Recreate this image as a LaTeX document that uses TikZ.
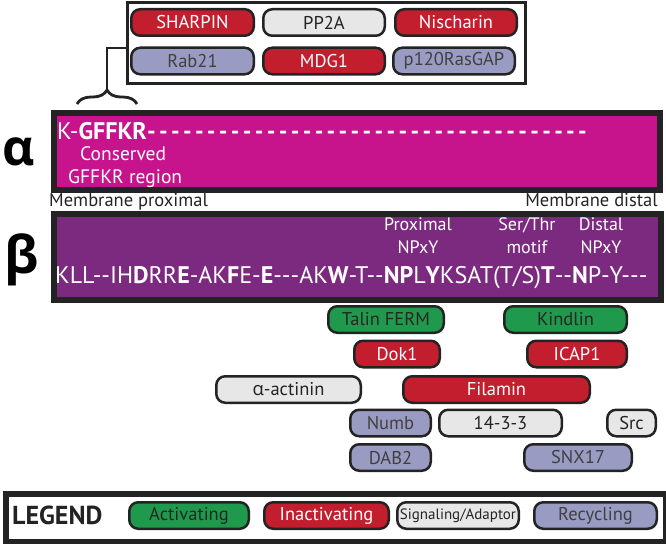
\documentclass[tikz,border=0pt]{standalone}
\usepackage{fontspec}
\setmainfont{PT Sans}[Ligatures=TeXOff]
\newfontfamily\grk{Open Sans}[Ligatures=TeXOff]
\usetikzlibrary{decorations.pathreplacing}
\definecolor{cact}{RGB}{31,154,76}
\definecolor{cina}{RGB}{194,30,46}
\definecolor{csig}{RGB}{231,231,231}
\definecolor{crec}{RGB}{154,155,195}
\definecolor{cmag}{RGB}{200,20,140}
\definecolor{cpur}{RGB}{124,42,127}
\definecolor{cdark}{RGB}{35,35,35}
\newcommand\fs[1]{\fontsize{#1}{#1}\selectfont}
\begin{document}
\begin{tikzpicture}[x=1pt,y=-1pt,
  pill/.style={draw=cdark, line width=2.5pt, rounded corners=9pt, inner sep=0pt,
    minimum height=26.5pt, font=\fs{18.5}},
  act/.style={pill, fill=cact, text=black!85},
  ina/.style={pill, fill=cina, text=white},
  sig/.style={pill, fill=csig, text=cdark},
  rec/.style={pill, fill=crec, text=black!75},
  panel/.style={draw=cdark, line width=6pt, inner sep=0pt, anchor=north west},
  lbl/.style={inner sep=0pt, anchor=base west},
  mot/.style={inner sep=0pt, anchor=base, text=white, font=\fs{18}}]
\useasboundingbox (0,0) rectangle (666,543);

% top box
\node[draw=cdark, line width=3pt, inner sep=0pt, anchor=north west,
  minimum width=398pt, minimum height=80pt, fill=white] (topbox) at (125.5,1.5) {};
\node[ina, minimum width=122.5pt] (sharpin) at (192.5,22.5) {SHARPIN};
\node[sig, minimum width=121.5pt] (pp2a) at (324,22.5) {PP2A};
\node[ina, minimum width=121.5pt] (nisch) at (456,22.5) {Nischarin};
\node[rec, minimum width=122.5pt] (rab21) at (192.5,61) {Rab21};
\node[ina, minimum width=121.5pt] (mdg1) at (324,61) {MDG1};
\node[rec, minimum width=121.5pt] (p120) at (454,61) {p120RasGAP};

% brace and bracket
\draw[decorate, decoration={brace, amplitude=14pt}, line width=2.8pt, cdark]
  (77,104) -- (137,104);
\coordinate (tip) at (107,90);
\draw[line width=2pt, cdark] (tip) |- ([yshift=-47pt]topbox.north west);

% alpha
\node[panel, fill=cmag, minimum width=606pt, minimum height=77pt] (abox) at (51,110) {};
\node[inner sep=0pt, font=\grk\bfseries\fs{50}] (alpha) at (19,152) {α};
\node[lbl, text=white, font=\fs{24}] (aseq) at (57,139)
  {\hbox to 533pt{K-\textbf{GFFKR}\xleaders\hbox to 11.75pt{\textbf{-}\hss}\hfill}};
\node[lbl, text=white, font=\fs{19.5}] (cons) at (80,160) {Conserved};
\node[lbl, text=white, font=\fs{19.5}] (gffkr) at (68,183) {GFFKR region};
\node[lbl, text=cdark, font=\fs{18.5}] (mprox) at (49,206) {Membrane proximal};
\node[inner sep=0pt, anchor=base east, text=cdark, font=\fs{18.5}] (mdist) at (658,206) {Membrane distal};

% beta
\node[panel, fill=cpur, minimum width=607pt, minimum height=86pt] (bbox) at (51,211) {};
\node[inner sep=0pt, font=\grk\bfseries\fs{52}] (beta) at (22,260) {β};
\node[mot] (prox) at (418,230) {Proximal};
\node[mot] (prox2) at (418,253) {NPxY};
\node[mot] (st) at (527,230) {Ser/Thr};
\node[mot] (st2) at (527,253) {motif};
\node[mot] (dn) at (601,230) {Distal};
\node[mot] (dn2) at (601,253) {NPxY};
\node[lbl, text=white, font=\fs{24}] (bseq) at (55,283)
  {KLL--IH\textbf{D}RR\textbf{E}-AK\textbf{F}E-\textbf{E}---AK\textbf{W}-T--\textbf{NP}L\textbf{Y}KSAT(T/S)\textbf{T}--\textbf{N}P-Y---};

% binders
\node[act, minimum width=115.5pt] (talin) at (386,319.5) {Talin FERM};
\node[act, minimum width=122.5pt] (kindlin) at (565.5,319.5) {Kindlin};
\node[ina, minimum width=85.5pt] (dok1) at (397,354) {Dok1};
\node[ina, minimum width=99.5pt] (icap1) at (577,354) {ICAP1};
\node[sig, minimum width=144.5pt] (actinin) at (288.5,389.5) {{\grk α}-actinin};
\node[ina, minimum width=186.5pt] (filamin) at (496.5,389.5) {Filamin};
\node[rec, minimum width=80.5pt] (numb) at (390.5,423) {Numb};
\node[sig, minimum width=122.5pt] (p1433) at (500.5,423) {14-3-3};
\node[sig, minimum width=48.5pt] (src) at (631.5,423) {Src};
\node[rec, minimum width=80.5pt] (dab2) at (390.5,457.5) {DAB2};
\node[rec, minimum width=107.5pt] (snx17) at (578,457.5) {SNX17};

% legend
\node[panel, fill=white, minimum width=660pt, minimum height=48pt] (legbox) at (3,491) {};
\node[lbl, text=cdark, font=\bfseries\fs{26}] (legend) at (12,524) {LEGEND};
\node[act, minimum width=119.5pt] (lact) at (189,515.5) {Activating};
\node[ina, minimum width=124.5pt] (lina) at (326.5,515.5) {Inactivating};
\node[sig, minimum width=121.5pt, font=\fs{15}] (lsig) at (458,515.5) {Signaling/Adaptor};
\node[rec, minimum width=122.5pt] (lrec) at (595.5,515.5) {Recycling};
\end{tikzpicture}
\end{document}
